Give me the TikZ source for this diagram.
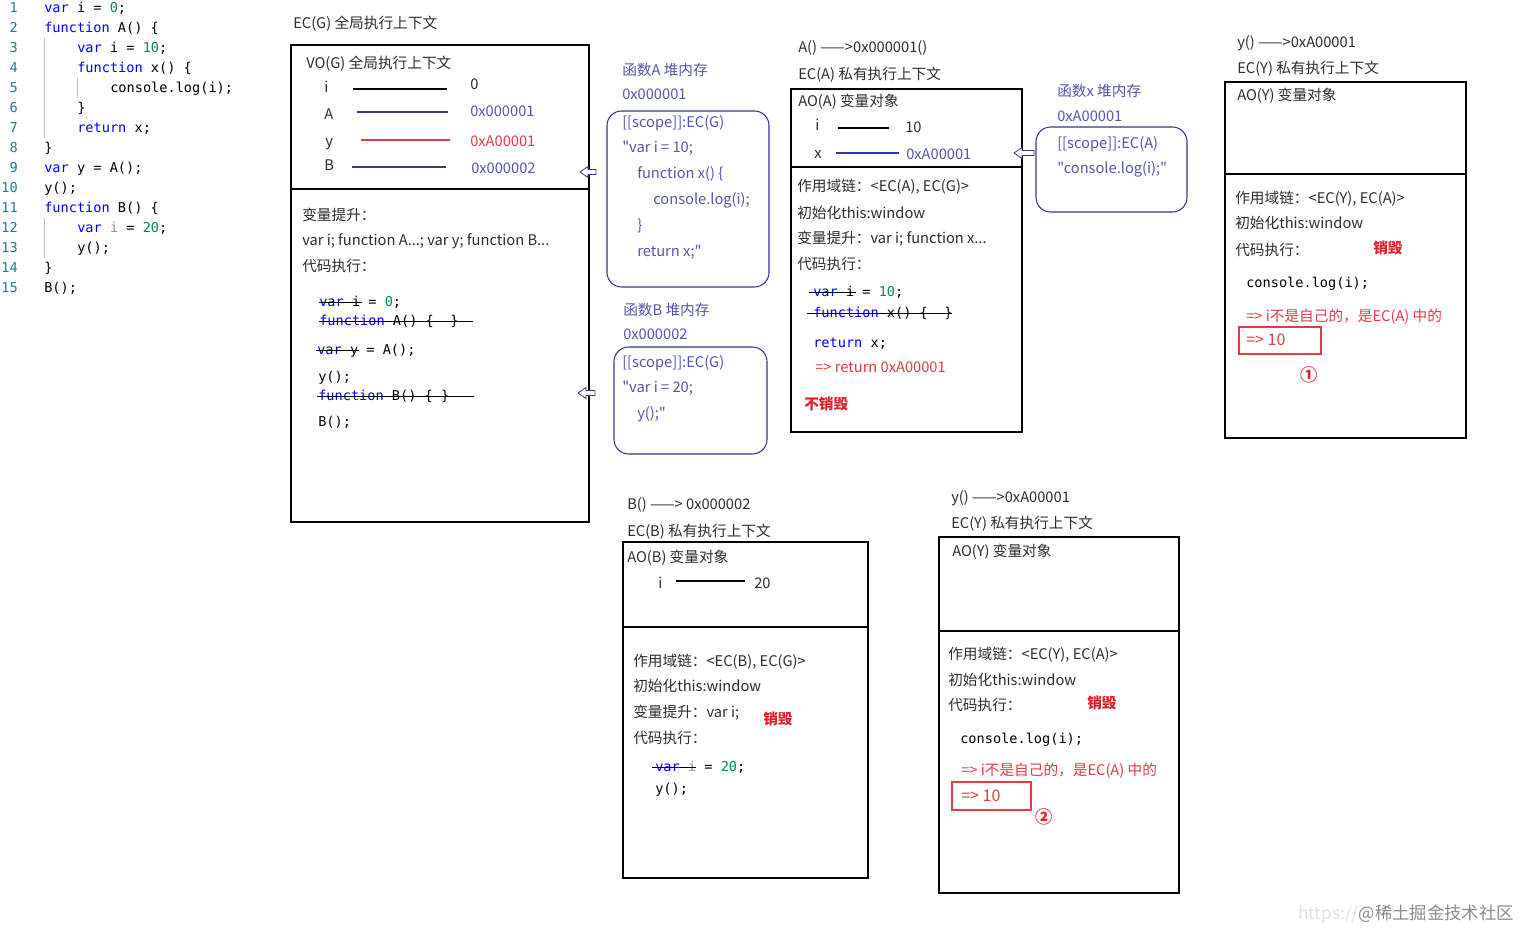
\documentclass[tikz,border=0pt]{standalone}
\usepackage{fontspec}
\setmainfont{Noto Sans CJK SC}[Ligatures=TeXOff]
\setmonofont{DejaVu Sans Mono}
\definecolor{tx}{RGB}{45,45,45}
\definecolor{kwblue}{RGB}{0,0,255}
\definecolor{numgreen}{RGB}{9,134,88}
\definecolor{lnteal}{RGB}{35,120,147}
\definecolor{heapblue}{RGB}{85,85,175}
\definecolor{navy}{RGB}{55,55,135}
\definecolor{vblue}{RGB}{50,60,150}
\definecolor{redtxt}{RGB}{225,60,70}
\definecolor{redbold}{RGB}{230,30,40}
\definecolor{unused}{RGB}{150,150,150}
\newcommand{\jkw}[1]{\textcolor{kwblue}{#1}}
\newcommand{\jnum}[1]{\textcolor{numgreen}{#1}}
\begin{document}
\begin{tikzpicture}[x=0.75pt,y=-0.75pt,
  t/.style={anchor=base west,inner sep=0pt,yshift=-3.8pt,text=tx,font=\fontsize{11}{13}\selectfont},
  tb/.style={t,text=heapblue},
  tr/.style={t,text=redtxt},
  trb/.style={t,text=redbold,font=\fontsize{11}{13}\selectfont\bfseries},
  tbig/.style={anchor=base west,inner sep=0pt,yshift=-4.2pt,text=redtxt,font=\fontsize{12}{14}\selectfont},
  circ/.style={inner sep=0pt,text=redbold,font=\fontsize{13}{15}\selectfont\bfseries},
  c/.style={anchor=base west,inner sep=0pt,yshift=-3.6pt,text=black,font=\ttfamily\fontsize{10.2}{12}\selectfont},
  ln/.style={anchor=base east,inner sep=0pt,yshift=-3.6pt,text=lnteal,font=\ttfamily\fontsize{10.2}{12}\selectfont},
  box/.style={draw=black,line width=0.8pt},
  hbox/.style={draw=navy,line width=0.8pt,rounded corners=11pt},
  rbox/.style={draw=redtxt,line width=0.8pt},
  kline/.style={draw=black,line width=0.8pt},
  bline/.style={draw=vblue,line width=0.8pt},
  rline/.style={draw=redtxt,line width=0.8pt},
  strike/.style={draw=black,line width=0.7pt},
  harrow/.style={draw=navy,fill=white,line width=0.6pt},
  guide/.style={draw=black!25,line width=0.5pt}
]
\useasboundingbox (0,0) rectangle (1520,930);
\fill[white] (0,0) rectangle (1520,930);

% ---------- code listing ----------
\node[ln] (ln1) at (18,8) {1};
\node[ln] (ln2) at (18,28) {2};
\node[ln] (ln3) at (18,48) {3};
\node[ln] (ln4) at (18,68) {4};
\node[ln] (ln5) at (18,88) {5};
\node[ln] (ln6) at (18,108) {6};
\node[ln] (ln7) at (18,128) {7};
\node[ln] (ln8) at (18,148) {8};
\node[ln] (ln9) at (18,168) {9};
\node[ln] (ln10) at (18,188) {10};
\node[ln] (ln11) at (18,208) {11};
\node[ln] (ln12) at (18,228) {12};
\node[ln] (ln13) at (18,248) {13};
\node[ln] (ln14) at (18,268) {14};
\node[ln] (ln15) at (18,288) {15};
\node[c] (c1) at (44,8) {\jkw{var} i = \jnum{0};};
\node[c] (c2) at (44,28) {\jkw{function} A() \{};
\node[c] (c3) at (77,48) {\jkw{var} i = \jnum{10};};
\node[c] (c4) at (77,68) {\jkw{function} x() \{};
\node[c] (c5) at (110,88) {console.log(i);};
\node[c] (c6) at (77,108) {\}};
\node[c] (c7) at (77,128) {\jkw{return} x;};
\node[c] (c8) at (44,148) {\}};
\node[c] (c9) at (44,168) {\jkw{var} y = A();};
\node[c] (c10) at (44,188) {y();};
\node[c] (c11) at (44,208) {\jkw{function} B() \{};
\node[c] (c12) at (77,228) {\jkw{var} \textcolor{unused}{i} = \jnum{20};};
\node[c] (c13) at (77,248) {y();};
\node[c] (c14) at (44,268) {\}};
\node[c] (c15) at (44,288) {B();};
\draw[guide] (44.5,38) -- (44.5,138);
\draw[guide] (77.5,78) -- (77.5,98);
\draw[guide] (44.5,218) -- (44.5,258);

% ---------- EC(G) ----------
\node[t] (gtitle) at (293,23) {EC(G) 全局执行上下文};
\draw[box] (291,45) rectangle (589,522);
\draw[box] (292,189) -- (588,189);
\node[t] (vog) at (306,63) {VO(G) 全局执行上下文};
\node[t] (gi) at (324,87) {i};
\draw[kline] (353,89) -- (447,89);
\node[t] (giv) at (470,84) {0};
\node[t] (ga) at (324,114) {A};
\draw[bline] (357,112) -- (448,112);
\node[tb] (gav) at (470,111) {0x000001};
\node[t] (gy) at (325,141) {y};
\draw[rline] (361,140) -- (450,140);
\node[tr] (gyv) at (470,141) {0xA00001};
\node[t] (gb) at (324,165) {B};
\draw[bline] (352,167) -- (446,167);
\node[tb] (gbv) at (471,168) {0x000002};
\node[t] (gh1) at (302,215) {变量提升：};
\node[t] (gh2) at (302,240) {var i; function A...; var y; function B...};
\node[t] (gh3) at (302,266) {代码执行：};
\node[c] (g1) at (319,302) {\jkw{var} i = \jnum{0};};
\draw[strike] (319,302) -- (362,302);
\node[c] (g2) at (319,321) {\jkw{function} A() \{~~\}};
\draw[strike] (319,321) -- (473,321);
\node[c] (g3) at (317,350) {\jkw{var} y = A();};
\draw[strike] (316,350) -- (359,350);
\node[c] (g4) at (318,377) {y();};
\node[c] (g5) at (318,396) {\jkw{function} B() \{~\}};
\draw[strike] (317,396) -- (474,396);
\node[c] (g6) at (318,422) {B();};
\draw[harrow,shift={(580,172)}] (0,0) -- (8,-5.5) -- (8,-2.5) -- (16,-2.5) -- (16,2.5) -- (8,2.5) -- (8,5.5) -- cycle;
\draw[harrow,shift={(578,393)}] (0,0) -- (8,-5.5) -- (8,-2.5) -- (17,-2.5) -- (17,2.5) -- (8,2.5) -- (8,5.5) -- cycle;

% ---------- heap A ----------
\node[tb] (ha1) at (622,70) {函数A 堆内存};
\node[tb] (ha2) at (622,94) {0x000001};
\draw[hbox] (607,111) rectangle (769,287);
\node[tb] (ha3) at (622,122) {[[scope]]:EC(G)};
\node[tb] (ha4) at (622,147) {"var i = 10;};
\node[tb] (ha5) at (637,173) {function x() \{};
\node[tb] (ha6) at (653,199) {console.log(i);};
\node[tb] (ha7) at (637,225) {\}};
\node[tb] (ha8) at (637,251) {return x;"};

% ---------- heap B ----------
\node[tb] (hb1) at (623,310) {函数B 堆内存};
\node[tb] (hb2) at (623,334) {0x000002};
\draw[hbox] (614,347) rectangle (767,454);
\node[tb] (hb3) at (622,362) {[[scope]]:EC(G)};
\node[tb] (hb4) at (622,387) {"var i = 20;};
\node[tb] (hb5) at (637,413) {y();"};

% ---------- EC(A) ----------
\node[t] (at1) at (798,47) {A() ——>0x000001()};
\node[t] (at2) at (798,74) {EC(A) 私有执行上下文};
\draw[box] (791,89) rectangle (1022,432);
\draw[box] (792,167) -- (1021,167);
\node[t] (aao) at (798,101) {AO(A) 变量对象};
\node[t] (ai) at (815,125) {i};
\draw[kline] (838,128) -- (889,128);
\node[t] (aiv) at (905,127) {10};
\node[t] (ax) at (814,153) {x};
\draw[bline] (836,153) -- (899,153);
\node[tb] (axv) at (906,154) {0xA00001};
\node[t] (a1) at (797,186) {作用域链：<EC(A), EC(G)>};
\node[t] (a2) at (797,213) {初始化this:window};
\node[t] (a3) at (797,238) {变量提升：var i; function x...};
\node[t] (a4) at (797,264) {代码执行：};
\node[c] (ac1) at (813,292) {\jkw{var} i = \jnum{10};};
\draw[strike] (809,292) -- (856,292);
\node[c] (ac2) at (813,313) {\jkw{function} x() \{~~\}};
\draw[strike] (807,313) -- (952,313);
\node[c] (ac3) at (813,343) {\jkw{return} x;};
\node[tr] (ac4) at (815,367) {=> return 0xA00001};
\node[trb] (ac5) at (804,404) {不销毁};
\draw[harrow,shift={(1014,153)}] (0,0) -- (8,-5.5) -- (8,-2.5) -- (20,-2.5) -- (20,2.5) -- (8,2.5) -- (8,5.5) -- cycle;

% ---------- heap x ----------
\node[tb] (hx1) at (1057,91) {函数x 堆内存};
\node[tb] (hx2) at (1057,116) {0xA00001};
\draw[hbox] (1036,127) rectangle (1187,212);
\node[tb] (hx3) at (1057,143) {[[scope]]:EC(A)};
\node[tb] (hx4) at (1057,168) {"console.log(i);"};

% ---------- EC(Y) top ----------
\node[t] (yt1) at (1237,42) {y() ——>0xA00001};
\node[t] (yt2) at (1237,68) {EC(Y) 私有执行上下文};
\draw[box] (1225,82) rectangle (1466,438);
\draw[box] (1226,174) -- (1465,174);
\node[t] (yao) at (1237,95) {AO(Y) 变量对象};
\node[t] (y1) at (1235,198) {作用域链：<EC(Y), EC(A)>};
\node[t] (y2) at (1235,223) {初始化this:window};
\node[t] (y3) at (1235,250) {代码执行：};
\node[trb] (y4) at (1373,248) {销毁};
\node[c] (y5) at (1246,283) {console.log(i);};
\node[tr] (y6) at (1246,316) {=> i不是自己的，是EC(A) 中的};
\draw[rbox] (1239,327) rectangle (1321,354);
\node[tbig] (y7) at (1246,340) {=> 10};
\node[circ] (y8) at (1309,375) {①};

% ---------- EC(B) ----------
\node[t] (bt1) at (627,504) {B() ——> 0x000002};
\node[t] (bt2) at (627,531) {EC(B) 私有执行上下文};
\draw[box] (623,542) rectangle (868,878);
\draw[box] (624,627) -- (867,627);
\node[t] (bao) at (627,557) {AO(B) 变量对象};
\node[t] (bi) at (658,583) {i};
\draw[kline] (676,581) -- (745,581);
\node[t] (biv) at (754,583) {20};
\node[t] (b1) at (633,661) {作用域链：<EC(B), EC(G)>};
\node[t] (b2) at (633,686) {初始化this:window};
\node[t] (b3) at (633,712) {变量提升：var i;};
\node[trb] (b4) at (763,719) {销毁};
\node[t] (b5) at (633,738) {代码执行：};
\node[c] (b6) at (655,767) {\jkw{var} \textcolor{unused}{i} = \jnum{20};};
\draw[strike] (652,767) -- (696,767);
\node[c] (b7) at (655,789) {y();};

% ---------- EC(Y) bottom ----------
\node[t] (zt1) at (951,497) {y() ——>0xA00001};
\node[t] (zt2) at (951,523) {EC(Y) 私有执行上下文};
\draw[box] (939,537) rectangle (1179,893);
\draw[box] (940,631) -- (1178,631);
\node[t] (zao) at (952,551) {AO(Y) 变量对象};
\node[t] (z1) at (948,654) {作用域链：<EC(Y), EC(A)>};
\node[t] (z2) at (948,680) {初始化this:window};
\node[t] (z3) at (948,705) {代码执行：};
\node[trb] (z4) at (1087,703) {销毁};
\node[c] (z5) at (960,739) {console.log(i);};
\node[tr] (z6) at (961,770) {=> i不是自己的，是EC(A) 中的};
\draw[rbox] (952,782) rectangle (1031,810);
\node[tbig] (z7) at (961,796) {=> 10};
\node[circ] (z8) at (1044,817) {②};

% ---------- watermark ----------
\node[anchor=base east,inner sep=0pt,yshift=-4.5pt,text=black!45,font=\fontsize{13}{15}\selectfont] (wm) at (1514,913) {\textcolor{black!12}{https://}@稀土掘金技术社区};
\end{tikzpicture}
\end{document}
